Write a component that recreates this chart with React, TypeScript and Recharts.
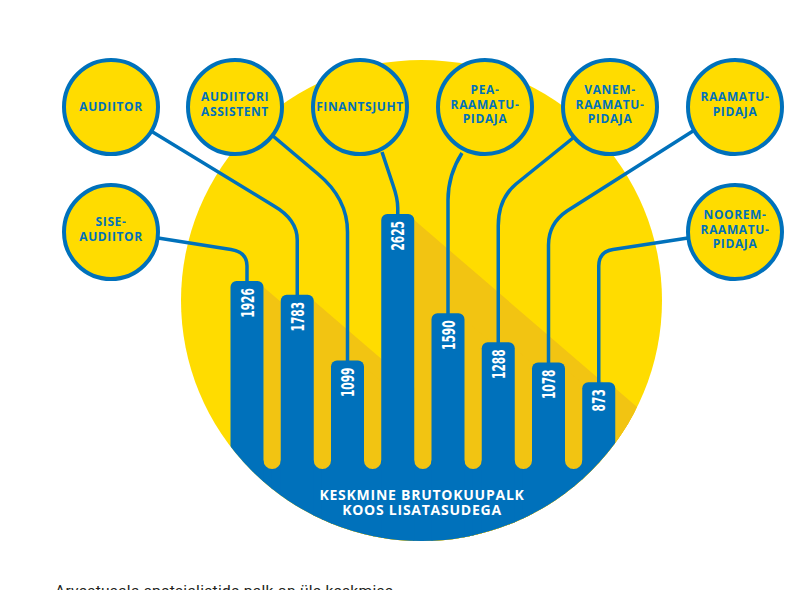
import React from 'react';
import { BarChart, Bar, XAxis, YAxis } from 'recharts';

// ---------- data ----------
const categories = [
  'SISE-AUDIITOR',
  'AUDIITOR',
  'AUDIITORI ASSISTENT',
  'FINANTSJUHT',
  'PEARAAMATUPIDAJA',
  'VANEMRAAMATUPIDAJA',
  'RAAMATUPIDAJA',
  'NOOREMRAAMATUPIDAJA',
];
const salaries = [1926, 1783, 1099, 2625, 1590, 1288, 1078, 873];
const bubbleLines = [
  ['SISE-', 'AUDIITOR'],
  ['AUDIITOR'],
  ['AUDIITORI', 'ASSISTENT'],
  ['FINANTSJUHT'],
  ['PEA-', 'RAAMATU-', 'PIDAJA'],
  ['VANEM-', 'RAAMATU-', 'PIDAJA'],
  ['RAAMATU-', 'PIDAJA'],
  ['NOOREM-', 'RAAMATU-', 'PIDAJA'],
];
const footerLines = ['KESKMINE BRUTOKUUPALK', 'KOOS LISATASUDEGA'];
const captionText = 'Arvestusala spetsialistide palk on üle keskmise';
const valueDomain = [0, 3000];

// ---------- layout / style ----------
const W = 800;
const H = 590;
const MARGIN = { top: 178, right: 176.5, bottom: 124, left: 221.5 };
const BAR_SIZE = 33;
const BAND = (W - MARGIN.left - MARGIN.right) / categories.length;
const GAP = BAND - BAR_SIZE;

const BLUE = '#0071BB';
const YELLOW = '#FFDC00';
const SHADOW = '#F2C412';
const SHADOW_SLOPE = 0.86;

const DISC = { cx: 421.5, cy: 300.5, r: 240.5 };
const BUBBLE_R = 47;
const bubbleCentres = [
  [111, 232],
  [111, 107],
  [235, 107],
  [360, 107],
  [485, 107],
  [610, 107],
  [735, 107],
  [735, 232],
];
const connectors = [
  { start: [158, 238], knee: [231, 249.5], ctrlY: 252, endY: 266 },
  { start: [151, 131], knee: [274, 206], ctrlY: 219.5, endY: 240 },
  { start: [273, 136], knee: [318, 174], ctrlY: 198.5, endY: 232 },
  { start: [382, 152], knee: [393, 185], ctrlY: 198.5, endY: 208 },
  { start: [462, 153], knee: [462, 153], ctrlY: 175, endY: 200 },
  { start: [573, 138], knee: [516, 184], ctrlY: 199, endY: 226 },
  { start: [693, 131], knee: [567, 211], ctrlY: 223.5, endY: 245 },
  { start: [688, 238], knee: [613, 249.5], ctrlY: 251.7, endY: 266 },
];

const data = categories.map((name, i) => ({
  name,
  value: salaries[i],
  lines: bubbleLines[i],
}));

const bubbleFont = "'Open Sans', 'DejaVu Sans', sans-serif";
const numberFont = "'Liberation Sans Narrow', 'DejaVu Sans Condensed', 'Liberation Sans', sans-serif";

const SalaryBar = (props: any) => {
  const { x, y, width, height, index, payload } = props;
  const value = payload.value as number;
  const right = x + width;
  const cx = x + width / 2;
  const base = y + height;
  const r = 6;
  const bottom = H + 30;
  const half = GAP / 2;
  const footCy = base + 3 - half;
  const ov = 1; // overlap to hide antialias seams

  const barPath = `M${x},${bottom} L${x},${y + r} A${r},${r} 0 0 1 ${x + r},${y} L${right - r},${y} A${r},${r} 0 0 1 ${right},${y + r} L${right},${bottom} Z`;
  const lgx = x - half;
  const leftFoot = `M${lgx},${footCy + half} A${half},${half} 0 0 0 ${x},${footCy} L${x + ov},${footCy} L${x + ov},${bottom} L${lgx - ov},${bottom} L${lgx - ov},${footCy + half} Z`;
  const rgx = right + half;
  const rightFoot = `M${right},${footCy} A${half},${half} 0 0 0 ${rgx},${footCy + half} L${rgx + ov},${footCy + half} L${rgx + ov},${bottom} L${right - ov},${bottom} L${right - ov},${footCy} Z`;

  const sy = y + r;
  const shadowPts = `${right},${sy} ${right + 600},${sy + 600 * SHADOW_SLOPE} ${right + 600},${bottom} ${right},${bottom}`;

  const c = connectors[index];
  const conn = `M${c.start[0]},${c.start[1]} L${c.knee[0]},${c.knee[1]} Q${cx},${c.ctrlY} ${cx},${c.endY} L${cx},${y + 3}`;

  const [bx, by] = bubbleCentres[index];
  const lines: string[] = payload.lines;
  const n = lines.length;
  const lh = 14.5;
  const centreY = by - (n > 1 ? 2.5 : 0);

  const label = String(value);
  const isLast = index === categories.length - 1;

  return (
    <g>
      {index === 0 && (
        <>
          <defs>
            <clipPath id="discClip">
              <circle cx={DISC.cx} cy={DISC.cy} r={DISC.r} />
            </clipPath>
          </defs>
          <circle cx={DISC.cx} cy={DISC.cy} r={DISC.r} fill={YELLOW} />
        </>
      )}
      <polygon points={shadowPts} fill={SHADOW} clipPath="url(#discClip)" />
      <g clipPath="url(#discClip)" fill={BLUE}>
        <path d={leftFoot} />
        <path d={rightFoot} />
        <path d={barPath} />
      </g>
      <path d={conn} fill="none" stroke={BLUE} strokeWidth={3.5} />
      <circle cx={bx} cy={by} r={BUBBLE_R} fill={YELLOW} stroke={BLUE} strokeWidth={4} />
      {lines.map((t, k) => (
        <text
          key={k}
          x={bx}
          y={centreY - ((n - 1) * lh) / 2 + k * lh + 4.2}
          textAnchor="middle"
          fill={BLUE}
          fontFamily={bubbleFont}
          fontWeight={700}
          fontSize={12}
          letterSpacing={0.6}
        >
          {t}
        </text>
      ))}
      <text
        x={0}
        y={0}
        transform={`translate(${cx + 6.5}, ${y + 7}) rotate(-90)`}
        textAnchor="end"
        fill="#FFFFFF"
        fontFamily={numberFont}
        fontWeight={700}
        fontSize={18}
        textLength={label.length * 7.4}
        lengthAdjust="spacingAndGlyphs"
      >
        {label}
      </text>
      {isLast && (
        <>
          {footerLines.map((t, k) => (
            <text
              key={k}
              x={DISC.cx + 0.5}
              y={500 + k * 15}
              textAnchor="middle"
              fill="#FFFFFF"
              fontFamily={bubbleFont}
              fontWeight={700}
              fontSize={14}
              letterSpacing={0.75}
            >
              {t}
            </text>
          ))}
          <text
            x={55}
            y={596}
            fill="#231F20"
            fontFamily="Roboto, 'Liberation Sans', sans-serif"
            fontSize={15.5}
            letterSpacing={0.3}
          >
            {captionText}
          </text>
        </>
      )}
    </g>
  );
};

export default function App() {
  return (
    <div style={{ position: 'absolute', left: 0, top: 0, width: W, height: H, background: '#FFFFFF', overflow: 'hidden' }}>
      <BarChart width={W} height={H} data={data} margin={MARGIN} barSize={BAR_SIZE}>
        <XAxis dataKey="name" hide />
        <YAxis hide domain={valueDomain} />
        <Bar dataKey="value" isAnimationActive={false} shape={SalaryBar} />
      </BarChart>
    </div>
  );
}
